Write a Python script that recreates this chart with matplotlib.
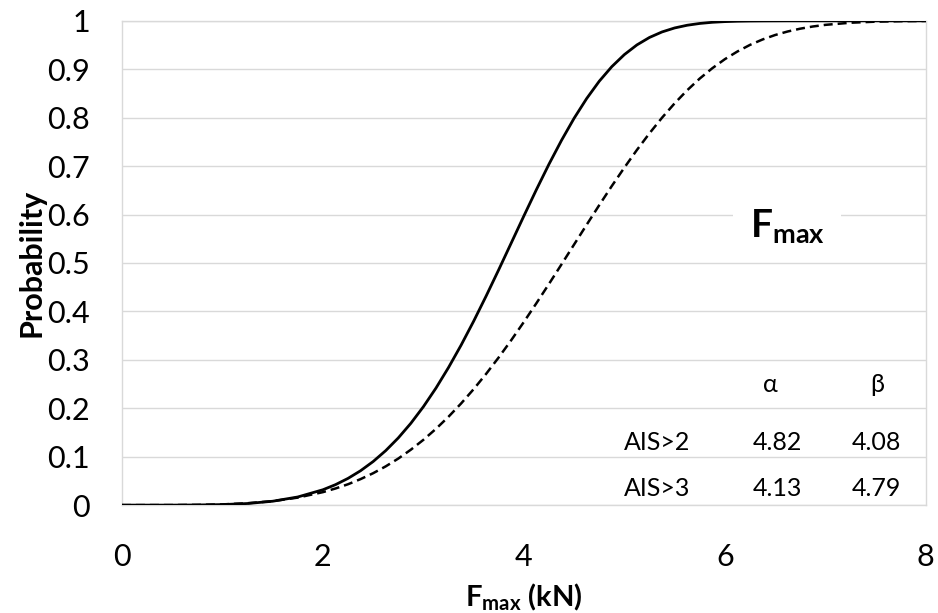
import matplotlib
matplotlib.use("Agg")
import matplotlib.pyplot as plt

# cumulative probability curves
force = [0, 0.5, 0.75, 1.0, 1.25, 1.5, 1.75,
         2.0, 2.125, 2.25, 2.375, 2.5, 2.625, 2.75, 2.875,
         3.0, 3.125, 3.25, 3.375, 3.5, 3.625, 3.75, 3.875,
         4.0, 4.125, 4.25, 4.375, 4.5, 4.625, 4.75, 4.875,
         5.0, 5.125, 5.25, 5.375, 5.5, 5.625, 5.75, 5.875,
         6.0, 6.125, 6.25, 6.375, 6.5, 6.625, 6.75, 6.875,
         7.0, 7.25, 7.5, 7.75, 8.0]
p_ais2 = [0, 0.0000, 0.0003, 0.0011, 0.0033, 0.0080, 0.0168,
          0.0317, 0.0422, 0.0552, 0.0710, 0.0900, 0.1125, 0.1387, 0.1689,
          0.2032, 0.2416, 0.2841, 0.3302, 0.3797, 0.4320, 0.4862, 0.5416,
          0.5971, 0.6516, 0.7041, 0.7534, 0.7989, 0.8396, 0.8753, 0.9054,
          0.9303, 0.9503, 0.9657, 0.9771, 0.9853, 0.9909, 0.9946, 0.9970,
          0.9984, 0.9992, 0.9996, 0.9998, 0.9999, 1.0, 1.0, 1.0,
          1.0, 1.0, 1.0, 1.0, 1.0]
p_ais3 = [0, 0.0001, 0.0005, 0.0015, 0.0039, 0.0082, 0.0155,
          0.0268, 0.0343, 0.0431, 0.0537, 0.0659, 0.0800, 0.0961, 0.1144,
          0.1348, 0.1575, 0.1825, 0.2098, 0.2394, 0.2712, 0.3051, 0.3408,
          0.3782, 0.4170, 0.4568, 0.4973, 0.5382, 0.5790, 0.6194, 0.6589,
          0.6969, 0.7334, 0.7678, 0.8000, 0.8296, 0.8566, 0.8808, 0.9021,
          0.9208, 0.9367, 0.9503, 0.9615, 0.9707, 0.9780, 0.9838, 0.9883,
          0.9917, 0.9961, 0.9983, 0.9993, 0.9998]

# fitted parameters shown in the table
groups = ["AIS>2", "AIS>3"]
alpha = ["4.82", "4.13"]
beta = ["4.08", "4.79"]

plt.rcParams["font.family"] = ["Lato", "DejaVu Sans"]
plt.rcParams["mathtext.fontset"] = "custom"
plt.rcParams["mathtext.rm"] = "Lato"
plt.rcParams["mathtext.bf"] = "Lato:bold"

fig = plt.figure(figsize=(9.38, 6.13), dpi=100)
ax = fig.add_axes([0.130, 0.176, 0.857, 0.790])

grid_col = "#d9d9d9"
ax.plot(force, p_ais2, color="black", lw=2.0, zorder=3,
        solid_joinstyle="round")
ax.plot(force, p_ais3, color="black", lw=1.8, linestyle=(0, (3.6, 2)),
        zorder=3)

ax.set_xlim(0, 8)
ax.set_ylim(0, 1)
ax.set_xticks([0, 2, 4, 6, 8])
ax.set_yticks([i / 10 for i in range(11)])
ax.set_yticklabels(["0", "0.1", "0.2", "0.3", "0.4", "0.5", "0.6", "0.7",
                    "0.8", "0.9", "1"])
ax.tick_params(axis="x", length=0, pad=27, labelsize=22)
ax.tick_params(axis="y", length=0, pad=23, labelsize=22)
ax.grid(axis="y", color=grid_col, lw=1)
ax.set_axisbelow(True)
for s in ax.spines.values():
    s.set_color(grid_col)
    s.set_linewidth(1)

ax.set_ylabel("Probability", fontsize=22, fontweight="bold", labelpad=1)
ax.set_xlabel(r"$\mathbf{F_{max}}$ (kN)", fontsize=21, fontweight="bold",
              labelpad=8)

ax.text(6.62, 0.577, r"$\mathbf{F_{max}}$", fontsize=28, ha="center",
        va="center", zorder=2,
        bbox=dict(facecolor="white", edgecolor="none", pad=12))

# parameter table
ax.text(6.45, 0.25, "α", fontsize=18, ha="center", va="center")
ax.text(7.52, 0.25, "β", fontsize=18, ha="center", va="center")
row_y = [0.13, 0.035]
for g, a, b, y in zip(groups, alpha, beta, row_y):
    ax.text(5.33, y, g, fontsize=18, ha="center", va="center")
    ax.text(6.52, y, a, fontsize=18, ha="center", va="center")
    ax.text(7.51, y, b, fontsize=18, ha="center", va="center")

fig.savefig("out.png", dpi=100)
